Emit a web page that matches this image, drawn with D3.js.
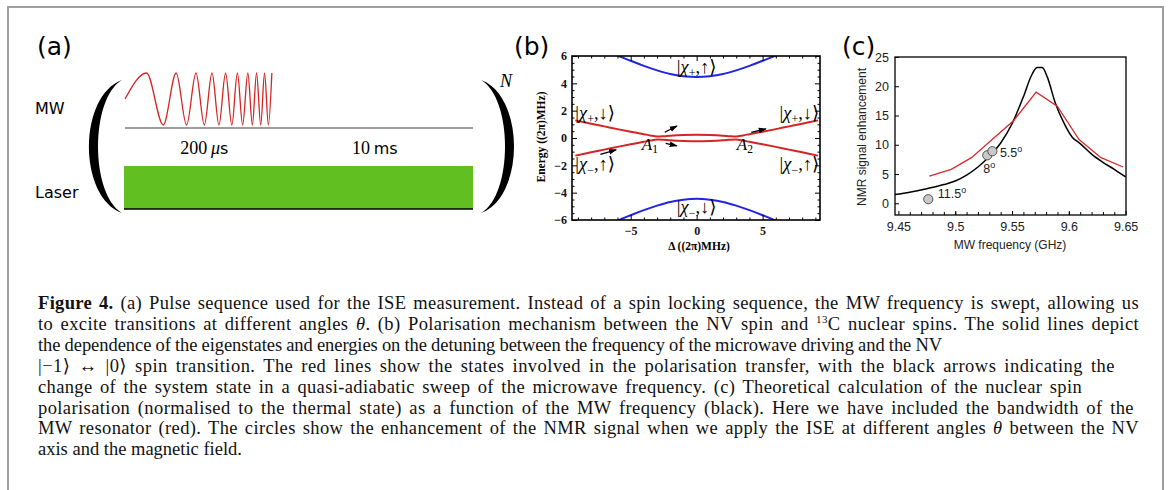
<!DOCTYPE html>
<html>
<head>
<meta charset="utf-8">
<title>Figure 4</title>
<script src="https://d3js.org/d3.v7.min.js"></script>
<style>
  body { margin: 0; background: #fff; }
  svg { display: block; }
</style>
</head>
<body>
<div id="vis"></div>
<script>
// Size of the figure
var width = 1171;
var height = 490;

// ---------- Data panel (a): pulse sequence ----------
// extrema of the chirped MW pulse (time in % of the sequence, amplitude)
var chirpTime = [0, 6.2, 11.0, 14.7, 17.7, 20.4, 22.8, 25.0, 27.0, 28.9, 30.7, 32.3, 33.8, 35.3, 36.6, 37.8, 39.0, 40.1, 41.2, 42.2];
var chirpAmp = [0, 1, -1, 1, -1, 1, -1, 1, -1, 1, -1, 1, -1, 1, -1, 1, -1, 1, -1, 1];
var laserSpan = [0, 100];
var durationLabels = ['200', '10'];
var durationUnits = ['s', 'ms'];
var durationPos = [22.8, 71.8];

// ---------- Data panel (b): energy levels ----------
var redDelta = [-9.2, -8, -7, -6, -5, -4, -3.5, -3, -2.5, -2, -1, 0, 1, 2, 2.5, 3, 3.5, 4, 5, 6, 7, 8, 9.2];
var redUpper = [1.29, 1.05, 0.85, 0.65, 0.46, 0.28, 0.19, 0.11, 0.13, 0.17, 0.22, 0.24, 0.22, 0.17, 0.13, 0.11, 0.19, 0.28, 0.46, 0.65, 0.85, 1.05, 1.29];
var redLower = [-1.29, -1.05, -0.85, -0.65, -0.46, -0.28, -0.19, -0.11, -0.13, -0.17, -0.22, -0.24, -0.22, -0.17, -0.13, -0.11, -0.19, -0.28, -0.46, -0.65, -0.85, -1.05, -1.29];
var blueDelta = [-6.6, -6, -5, -4, -3, -2, -1, 0, 1, 2, 3, 4, 5, 6, 6.6];
var blueUpper = [6.35, 6.05, 5.65, 5.28, 4.95, 4.68, 4.52, 4.46, 4.52, 4.68, 4.95, 5.28, 5.65, 6.05, 6.35];
var blueLower = [-6.35, -6.05, -5.65, -5.28, -4.95, -4.68, -4.52, -4.44, -4.52, -4.68, -4.95, -5.28, -5.65, -6.05, -6.35];
// black arrows (start and end, data coordinates)
var arrowX0 = [-7.3, -2.42, -2.35, 4.14];
var arrowY0 = [-1.2, 0.42, -0.39, 0.42];
var arrowX1 = [-6.1, -1.49, -1.5, 5.25];
var arrowY1 = [-0.86, 0.88, -0.57, 0.67];
// state labels
var ketSign = ['+', '+', '+', '\u2212', '\u2212', '\u2212'];
var ketSpin = ['\u2191', '\u2193', '\u2193', '\u2191', '\u2191', '\u2193'];
var ketX = [0, -9.2, 9.3, -9.2, 9.3, 0];
var ketY = [4.75, 1.4, 1.4, -2.36, -2.36, -5.5];
var ketAnchor = ['middle', 'start', 'end', 'start', 'end', 'middle'];
var crossingNames = ['1', '2'];
var crossingX = [-3.55, 3.65];
var crossingY = [-0.9, -0.9];
var yTicksB = [-6, -4, -2, 0, 2, 4, 6];
var xTicksB = [-5, 0, 5];

// ---------- Data panel (c): NMR enhancement ----------
var freqBlack = [9.447, 9.46, 9.475, 9.49, 9.50, 9.51, 9.52, 9.53, 9.54, 9.55, 9.56, 9.567, 9.572, 9.5765, 9.581, 9.588, 9.595, 9.603, 9.61, 9.62, 9.63, 9.64, 9.65];
var enhBlack = [1.5, 1.9, 2.5, 3.2, 3.8, 4.8, 6.2, 8.0, 10.3, 13.6, 18.2, 21.8, 23.2, 23.2, 21.6, 17.2, 14.0, 11.3, 10.2, 8.4, 7.0, 5.8, 4.5];
var freqRed = [9.4772, 9.4965, 9.5143, 9.532, 9.5513, 9.5712, 9.5898, 9.609, 9.6283, 9.6478];
var enhRed = [4.65, 5.8, 7.8, 10.8, 14.1, 19.0, 16.6, 10.9, 7.8, 6.2];
var angleFreq = [9.4763, 9.5282, 9.5327];
var angleEnh = [0.7, 8.2, 8.9];
var angleLabels = ['11.5', '8', '5.5'];
var xTicksC = [9.45, 9.5, 9.55, 9.6, 9.65];
var yTicksC = [0, 5, 10, 15, 20, 25];

// ---------- Caption ----------
var captionLines = [
    [['Figure 4.', 'b'], [' (a) Pulse sequence used for the ISE measurement. Instead of a spin locking sequence, the MW frequency is swept, allowing us', '']],
    [['to excite transitions at different angles ', ''], ['\u03b8', 'i'], ['. (b) Polarisation mechanism between the NV spin and ', ''], ['13', 'sup'], ['C nuclear spins. The solid lines depict', '']],
    [['the dependence of the eigenstates and energies on the detuning between the frequency of the microwave driving and the NV', '']],
    [['|\u22121\u27e9 \u2194 |0\u27e9 spin transition. The red lines show the states involved in the polarisation transfer, with the black arrows indicating the', '']],
    [['change of the system state in a quasi-adiabatic sweep of the microwave frequency. (c) Theoretical calculation of the nuclear spin', '']],
    [['polarisation (normalised to the thermal state) as a function of the MW frequency (black). Here we have included the bandwidth of the', '']],
    [['MW resonator (red). The circles show the enhancement of the NMR signal when we apply the ISE at different angles ', ''], ['\u03b8', 'i'], [' between the NV', '']],
    [['axis and the magnetic field.', '']]
];
// right end of each printed line (null: natural width)
var captionEnds = [1139, 1139, 942, 1115, 1082, 1134, 1139, null];

var serif = '"Liberation Serif", "DejaVu Serif", serif';
var sans = '"DejaVu Sans", sans-serif';
var arial = '"Liberation Sans", Arial, sans-serif';

var svg = d3.select('#vis').append('svg')
    .attr('width', width)
    .attr('height', height);

svg.append('rect').attr('width', width).attr('height', height).attr('fill', '#fff');

// outer frame of the figure
svg.append('rect')
    .attr('x', 8).attr('y', 7)
    .attr('width', 1155).attr('height', 540)
    .attr('fill', 'none')
    .attr('stroke', '#9f9f9f')
    .attr('stroke-width', 2);

// panel letters
svg.selectAll('.panelLabel')
    .data([['(a)', 37], ['(b)', 514], ['(c)', 842]])
    .enter().append('text')
    .attr('x', function (d) { return d[1]; })
    .attr('y', 55)
    .style('font-family', sans)
    .style('font-size', '25px')
    .text(function (d) { return d[0]; });

// ===================== Panel (a) =====================
var xA = d3.scaleLinear().domain([0, 100]).range([125, 473]);
var yA = d3.scaleLinear().domain([-1, 1]).range([125, 73]);
var gA = svg.append('g');

gA.append('text').attr('x', 35).attr('y', 114)
    .style('font-family', sans).style('font-size', '16px').text('MW');
gA.append('text').attr('x', 35).attr('y', 198)
    .style('font-family', sans).style('font-size', '16px').text('Laser');

// chirped MW pulse
gA.append('path')
    .datum(d3.range(chirpTime.length))
    .attr('d', d3.line()
        .x(function (i) { return xA(chirpTime[i]); })
        .y(function (i) { return yA(chirpAmp[i]); })
        .curve(d3.curveMonotoneX))
    .attr('fill', 'none')
    .attr('stroke', '#d42424')
    .attr('stroke-width', 1.3);

// time axis of the MW channel
gA.append('line')
    .attr('x1', xA(0)).attr('x2', xA(100))
    .attr('y1', 128).attr('y2', 128)
    .attr('stroke', '#7d7d7d').attr('stroke-width', 1.6);

// laser pulse
gA.append('rect')
    .attr('x', xA(laserSpan[0]) - 1)
    .attr('y', 166)
    .attr('width', xA(laserSpan[1]) - xA(laserSpan[0]) + 1)
    .attr('height', 43)
    .attr('fill', '#62bf21');
gA.append('line')
    .attr('x1', xA(laserSpan[0]) - 1).attr('x2', xA(laserSpan[1]))
    .attr('y1', 209).attr('y2', 209)
    .attr('stroke', '#000').attr('stroke-width', 1.5);

// durations
var durText = gA.selectAll('.dur')
    .data(durationLabels)
    .enter().append('text')
    .attr('x', function (d, i) { return xA(durationPos[i]); })
    .attr('y', 154)
    .attr('text-anchor', 'middle')
    .style('font-family', serif)
    .style('font-size', '18px');
durText.append('tspan').text(function (d, i) { return d + '\u2009'; });
durText.append('tspan').style('font-style', 'italic')
    .text(function (d, i) { return i === 0 ? '\u03bc' : ''; });
durText.append('tspan').style('font-family', sans).style('font-size', '16px')
    .text(function (d, i) { return durationUnits[i]; });

// big brackets around the sequence
function bracket(xEnd, cOuter, cInner, y0, y1) {
    var h = y1 - y0;
    return 'M' + xEnd + ',' + y0 +
        'C' + cOuter + ',' + (y0 + h * 0.12) + ' ' + cOuter + ',' + (y1 - h * 0.12) + ' ' + xEnd + ',' + y1 +
        'C' + cInner + ',' + (y1 - h * 0.14) + ' ' + cInner + ',' + (y0 + h * 0.14) + ' ' + xEnd + ',' + y0 + 'Z';
}
gA.append('path').attr('d', bracket(122, 78, 90, 80, 213)).attr('fill', '#000');
gA.append('path').attr('d', bracket(481, 525, 513, 80, 213)).attr('fill', '#000');
gA.append('text').attr('x', 500).attr('y', 87)
    .style('font-family', serif).style('font-style', 'italic').style('font-size', '18px').text('N');

// ===================== Panel (b) =====================
var xB = d3.scaleLinear().domain([-9.45, 9.35]).range([572, 820]);
var yB = d3.scaleLinear().domain([-6, 6]).range([220, 56]);
var gB = svg.append('g');

svg.append('defs').append('clipPath').attr('id', 'clipB')
    .append('rect').attr('x', 572).attr('y', 56).attr('width', 248).attr('height', 164);

svg.select('defs').append('marker')
    .attr('id', 'arrowHead')
    .attr('viewBox', '0 0 10 10')
    .attr('refX', 9).attr('refY', 5)
    .attr('markerWidth', 8).attr('markerHeight', 8)
    .attr('markerUnits', 'userSpaceOnUse')
    .attr('orient', 'auto')
    .append('path').attr('d', 'M0,1.5L10,5L0,8.5Z').attr('fill', '#000');

var lineB = function (xs, ys) {
    return d3.line()
        .x(function (i) { return xB(xs[i]); })
        .y(function (i) { return yB(ys[i]); })
        .curve(d3.curveCatmullRom)(d3.range(xs.length));
};

var curvesB = gB.append('g').attr('clip-path', 'url(#clipB)');
[[blueDelta, blueUpper, '#2323e6'], [blueDelta, blueLower, '#2323e6'],
    [redDelta, redUpper, '#d42424'], [redDelta, redLower, '#d42424']].forEach(function (c) {
    curvesB.append('path')
        .attr('d', lineB(c[0], c[1]))
        .attr('fill', 'none')
        .attr('stroke', c[2])
        .attr('stroke-width', 2);
});

// arrows of the adiabatic sweep
gB.selectAll('.arrow')
    .data(arrowX0)
    .enter().append('line')
    .attr('x1', function (d, i) { return xB(arrowX0[i]); })
    .attr('y1', function (d, i) { return yB(arrowY0[i]); })
    .attr('x2', function (d, i) { return xB(arrowX1[i]); })
    .attr('y2', function (d, i) { return yB(arrowY1[i]); })
    .attr('stroke', '#000')
    .attr('stroke-width', 1.3)
    .attr('marker-end', 'url(#arrowHead)');

// axes with inward ticks on all four sides
function noDomain(g) { g.select('.domain').remove(); }
var fmtB = d3.format('d');
var minorY = d3.range(-6, 6.01, 0.5).filter(function (v) { return v % 2 !== 0; });
var minorX = d3.range(-9, 9.01, 1).filter(function (v) { return v % 5 !== 0; });

gB.append('g').attr('transform', 'translate(572,0)')
    .call(d3.axisLeft(yB).tickValues(yTicksB).tickSize(-5).tickPadding(5).tickFormat(fmtB)).call(noDomain);
gB.append('g').attr('transform', 'translate(572,0)')
    .call(d3.axisLeft(yB).tickValues(minorY).tickSize(-2.5).tickFormat('')).call(noDomain);
gB.append('g').attr('transform', 'translate(820,0)')
    .call(d3.axisRight(yB).tickValues(yTicksB).tickSize(-5).tickFormat('')).call(noDomain);
gB.append('g').attr('transform', 'translate(820,0)')
    .call(d3.axisRight(yB).tickValues(minorY).tickSize(-2.5).tickFormat('')).call(noDomain);
gB.append('g').attr('transform', 'translate(0,220)')
    .call(d3.axisBottom(xB).tickValues(xTicksB).tickSize(-5).tickPadding(6).tickFormat(fmtB)).call(noDomain);
gB.append('g').attr('transform', 'translate(0,220)')
    .call(d3.axisBottom(xB).tickValues(minorX).tickSize(-2.5).tickFormat('')).call(noDomain);
gB.append('g').attr('transform', 'translate(0,56)')
    .call(d3.axisTop(xB).tickValues(xTicksB).tickSize(-5).tickFormat('')).call(noDomain);
gB.append('g').attr('transform', 'translate(0,56)')
    .call(d3.axisTop(xB).tickValues(minorX).tickSize(-2.5).tickFormat('')).call(noDomain);

gB.selectAll('.tick line').attr('stroke', '#000').attr('stroke-width', 1);
gB.selectAll('.tick text')
    .attr('fill', '#111')
    .style('font-family', serif)
    .style('font-weight', 'bold')
    .style('font-size', '12px');

gB.append('rect')
    .attr('x', 572).attr('y', 56).attr('width', 248).attr('height', 164)
    .attr('fill', 'none').attr('stroke', '#000').attr('stroke-width', 1.6);

// state labels |chi, spin>
var kets = gB.selectAll('.ket')
    .data(ketSign)
    .enter().append('text')
    .attr('x', function (d, i) { return xB(ketX[i]); })
    .attr('y', function (d, i) { return yB(ketY[i]); })
    .attr('text-anchor', function (d, i) { return ketAnchor[i]; })
    .style('font-family', serif)
    .style('font-size', '18.5px');
kets.append('tspan').text('|');
kets.append('tspan').style('font-style', 'italic').text('\u03c7');
kets.append('tspan').attr('dy', 4).style('font-size', '12px').text(function (d) { return d; });
kets.append('tspan').attr('dy', -4).text(function (d, i) { return ',' + ketSpin[i] + '\u27e9'; });

// avoided crossings
var crossings = gB.selectAll('.crossing')
    .data(crossingNames)
    .enter().append('text')
    .attr('x', function (d, i) { return xB(crossingX[i]); })
    .attr('y', function (d, i) { return yB(crossingY[i]); })
    .attr('text-anchor', 'middle')
    .style('font-family', serif)
    .style('font-size', '17px');
crossings.append('tspan').style('font-style', 'italic').text('A');
crossings.append('tspan').attr('dy', 3).style('font-size', '11.5px').text(function (d) { return d; });

gB.append('text')
    .attr('transform', 'translate(545,137) rotate(-90)')
    .attr('text-anchor', 'middle')
    .style('font-family', serif).style('font-weight', 'bold').style('font-size', '11.5px')
    .text('Energy ((2\u03c0)MHz)');
gB.append('text')
    .attr('x', 699).attr('y', 250)
    .attr('text-anchor', 'middle')
    .style('font-family', serif).style('font-weight', 'bold').style('font-size', '11.5px')
    .text('\u0394 ((2\u03c0)MHz)');

// ===================== Panel (c) =====================
var xC = d3.scaleLinear().domain([9.447, 9.6503]).range([895, 1126]);
var yC = d3.scaleLinear().domain([-2, 25]).range([215, 57]);
var gC = svg.append('g');

gC.append('g').attr('transform', 'translate(895,0)')
    .call(d3.axisLeft(yC).tickValues(yTicksC).tickSize(-4).tickPadding(6).tickFormat(d3.format('d'))).call(noDomain);
gC.append('g').attr('transform', 'translate(0,215)')
    .call(d3.axisBottom(xC).tickValues(xTicksC).tickSize(-4).tickPadding(7).tickFormat(d3.format('~g'))).call(noDomain);
gC.append('g').attr('transform', 'translate(0,215)')
    .call(d3.axisBottom(xC).tickValues(d3.range(9.46, 9.645, 0.01)).tickSize(-3).tickFormat('')).call(noDomain);
gC.selectAll('.tick line').attr('stroke', '#000').attr('stroke-width', 1);
gC.selectAll('.tick text')
    .attr('fill', '#222')
    .style('font-family', arial)
    .style('font-size', '12.5px');

var lineC = function (xs, ys, curve) {
    return d3.line()
        .x(function (i) { return xC(xs[i]); })
        .y(function (i) { return yC(ys[i]); })
        .curve(curve)(d3.range(xs.length));
};

gC.append('path')
    .attr('d', lineC(freqBlack, enhBlack, d3.curveMonotoneX))
    .attr('fill', 'none').attr('stroke', '#000').attr('stroke-width', 1.5);
gC.append('path')
    .attr('d', lineC(freqRed, enhRed, d3.curveLinear))
    .attr('fill', 'none').attr('stroke', '#d92a2a').attr('stroke-width', 1.3);

gC.selectAll('.angle')
    .data(angleFreq)
    .enter().append('circle')
    .attr('cx', function (d) { return xC(d); })
    .attr('cy', function (d, i) { return yC(angleEnh[i]); })
    .attr('r', 4.6)
    .attr('fill', '#c9c9c9')
    .attr('stroke', '#444')
    .attr('stroke-width', 0.9);

// angle labels, offsets in pixels from the circle
var labelDx = [9.5, -4, 7.5];
var labelDy = [-1, 18, 5.5];
var angleText = gC.selectAll('.angleLabel')
    .data(angleLabels)
    .enter().append('text')
    .attr('x', function (d, i) { return xC(angleFreq[i]) + labelDx[i]; })
    .attr('y', function (d, i) { return yC(angleEnh[i]) + labelDy[i]; })
    .style('font-family', arial)
    .style('font-size', '12.5px')
    .attr('fill', '#222');
angleText.append('tspan').text(function (d) { return d; });
angleText.append('tspan').attr('dy', -5).style('font-size', '9px').text('o');

gC.append('rect')
    .attr('x', 895).attr('y', 57).attr('width', 231).attr('height', 158)
    .attr('fill', 'none').attr('stroke', '#000').attr('stroke-width', 1.3);

gC.append('text')
    .attr('transform', 'translate(866,137) rotate(-90)')
    .attr('text-anchor', 'middle')
    .style('font-family', arial).style('font-size', '12px').attr('fill', '#222')
    .text('NMR signal enhancement');
gC.append('text')
    .attr('x', 1010).attr('y', 249)
    .attr('text-anchor', 'middle')
    .style('font-family', arial).style('font-size', '12px').attr('fill', '#222')
    .text('MW frequency (GHz)');

// ===================== Caption =====================
var captionX = 38;
var caption = svg.selectAll('.captionLine')
    .data(captionLines)
    .enter().append('text')
    .attr('x', captionX)
    .attr('y', function (d, i) { return 309 + i * 20.9; })
    .style('font-family', serif)
    .style('font-size', '18.5px')
    .style('white-space', 'pre')
    .attr('fill', '#111');

caption.each(function (segs) {
    var t = d3.select(this);
    var raised = false;
    segs.forEach(function (s) {
        var sp = t.append('tspan').text(s[0]);
        if (s[1] === 'b') sp.style('font-weight', 'bold');
        if (s[1] === 'i') sp.style('font-style', 'italic');
        if (s[1] === 'sup') {
            sp.attr('dy', -7).style('font-size', '11px');
            raised = true;
        } else if (raised) {
            sp.attr('dy', 7);
            raised = false;
        }
    });
});

// justify the lines: the extra room goes half between words, half between letters
caption.each(function (segs, i) {
    if (captionEnds[i] === null) return;
    var natural = this.getComputedTextLength();
    var txt = this.textContent;
    var extra = captionEnds[i] - captionX - natural;
    var spaces = txt.split(' ').length - 1;
    d3.select(this)
        .style('word-spacing', (extra * 0.5 / spaces) + 'px')
        .style('letter-spacing', (extra * 0.5 / txt.length) + 'px');
});
</script>
</body>
</html>
